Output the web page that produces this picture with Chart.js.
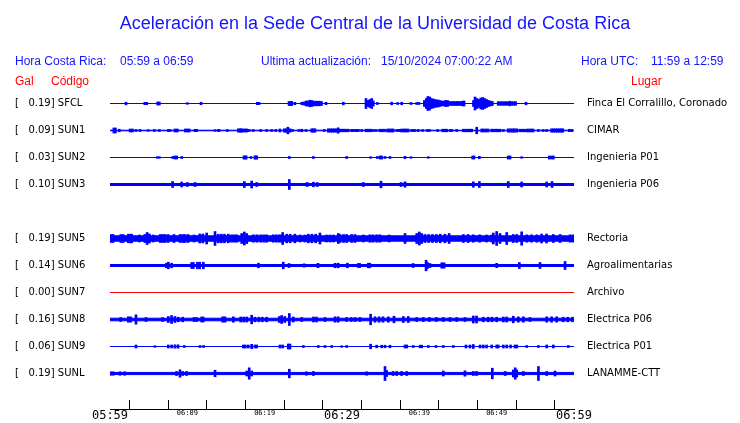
<!DOCTYPE html>
<html>
<head>
<meta charset="utf-8">
<title>Aceleración Sede Central UCR</title>
<script src="https://cdn.jsdelivr.net/npm/chart.js@4.4.1/dist/chart.umd.min.js"></script>
<style>
  html, body { margin: 0; padding: 0; background: #fff; }
  canvas { display: block; }
</style>
</head>
<body>
<canvas id="sismo" width="740" height="423"></canvas>
<script>
// textos de cabecera
const titulo = 'Aceleración en la Sede Central de la Universidad de Costa Rica';
const horaLocal = '05:59 a 06:59';
const horaUTC = '11:59 a 12:59';
const actualizacion = '15/10/2024 07:00:22 AM';

// estaciones (SUN4 sin datos)
const codigos = ['SFCL', 'SUN1', 'SUN2', 'SUN3', 'SUN4', 'SUN5', 'SUN6', 'SUN7', 'SUN8', 'SUN9', 'SUNL'];
const gal = [0.19, 0.09, 0.03, 0.10, null, 0.19, 0.14, 0.00, 0.16, 0.06, 0.19];
const lugares = ['Finca El Corralillo, Coronado', 'CIMAR', 'Ingenieria P01', 'Ingenieria P06', '',
  'Rectoria', 'Agroalimentarias', 'Archivo', 'Electrica P06', 'Electrica P01', 'LANAMME-CTT'];

// eje de tiempo: minutos desde las 05:59
const marcasMin = [0, 5, 10, 15, 20, 25, 30, 35, 40, 45, 50, 55, 60];
const etiquetasHora = ['05:59', '06:09', '06:19', '06:29', '06:39', '06:49', '06:59'];

// nivel de ruido de fondo (semiamplitud) de cada traza
const ruido = [0, 0.3, 0, 1, null, 2.7, 1, 0, 1.3, 0, 1.1];

// picos: [minuto, semiamplitud]
const picosSFCL = [[2.07,1.3],[4.5,1.2],[4.75,1.2],[6.16,1.5],[6.38,1.5],[10.0,0.8],[11.77,1.3],[19.05,1.2],[19.27,1.2],
  [23.15,2],[23.35,2],[23.5,2],[23.9,1.2],[24.8,1.3],[25.1,1.5],[25.35,2.5],[25.6,2.5],[25.85,3.3],[26.1,3],[26.35,2.3],
  [26.6,2.3],[26.85,2.3],[27.1,2.3],[27.35,2],[27.93,1.2],[30.17,1.3],[33.1,5],[33.35,3],[33.6,4],[33.85,5],[34.05,2.5],
  [34.57,1],[36.42,1.3],[37.2,1],[37.72,1.3],[38.92,1],[39.66,1],[39.96,1],[40.65,3],[40.9,5],[41.1,7],[41.35,6.5],
  [41.55,5],[41.8,4.5],[42.0,4],[42.25,3.5],[42.45,3.5],[42.67,3],[42.9,2.3],[43.15,2.5],[43.4,3],[43.65,3],[43.9,2],
  [44.15,2],[44.4,2],[44.65,2],[44.9,2],[45.15,2],[45.4,2],[45.6,2.3],[45.78,2.5],[47.0,3],[47.2,6.5],[47.45,5],[47.7,4],
  [47.95,5.5],[48.2,6],[48.45,5],[48.7,4],[48.95,3],[49.2,2.5],[49.45,2],[50.2,1.8],[50.45,1.8],[50.7,1.8],[50.95,1.8],
  [51.2,1.8],[51.45,1.8],[51.7,2.3],[51.95,1.8],[52.2,1.8],[52.45,1.8],[53.8,1.3]];
const picosSUN1 = [[0.5,2.5],[0.7,2.5],[1.2,1.3],[2.6,1.5],[2.9,1.5],[3.36,1],[3.88,1],[4.95,0.8],[5.73,1],[6.38,1],
  [7.54,1],[7.76,1],[8.4,1.5],[8.7,1.5],[9.74,1.5],[10.0,1.5],[10.24,1.5],[11.0,1.2],[11.2,1.2],[13.58,0.8],[14.0,1],
  [14.1,1],[15.17,1],[16.6,1.7],[16.85,1.7],[17.0,1.7],[17.24,1.5],[17.5,1.5],[17.68,1.5],[18.0,1],[18.53,1],[19.48,1],
  [20.26,1],[20.9,1],[21.43,1],[21.98,1.5],[22.54,1.7],[22.8,1.7],[23.0,3.3],[23.27,1.7],[23.6,1],[24.44,1],[24.8,1.3],
  [25.35,1],[26.08,1.7],[26.3,1.7],[26.5,1.7],[27.7,1],[28.23,1.7],[28.5,1.7],[28.75,1.7],[29.0,1.7],[29.27,1.7],
  [29.5,2.7],[29.74,1.3],[30.0,1.3],[30.3,1.3],[30.55,1.3],[30.8,1.3],[31.25,1.2],[31.47,1.2],[31.8,1.2],[32.1,1.2],
  [32.55,1],[33.1,1.3],[33.4,1.3],[33.7,1.3],[34.05,1],[34.4,1],[34.9,1.3],[35.2,1.3],[35.5,1.3],[35.9,1.5],[36.15,1.5],
  [36.4,1.5],[36.6,1.5],[37.07,1],[37.3,1],[37.5,1],[37.7,1.5],[38.0,1.5],[38.25,1.5],[38.55,1.5],[39.0,1],[39.2,1],
  [39.45,1],[39.87,1],[40.43,1],[41.03,1],[41.3,1],[42.37,1],[43.02,1.3],[43.3,1.3],[43.53,1.3],[43.97,1],[44.2,1],
  [44.83,1],[45.7,1.3],[46.0,1.3],[46.3,1.3],[46.55,1.3],[46.77,1.3],[47.42,3.3],[48.07,1.5],[48.3,1.5],[48.6,1.5],
  [48.9,1.5],[49.36,1.3],[49.6,1.3],[49.9,1.3],[50.15,1.3],[50.43,1.3],[50.86,1],[51.5,1.7],[51.8,1.7],[52.1,1.7],
  [52.3,1.7],[52.6,1.7],[53.0,1.3],[53.3,1.3],[53.6,1.3],[53.88,1.3],[54.1,1.5],[54.4,1.5],[54.7,1.5],[55.4,1],[56.0,1],
  [56.47,1],[57.1,1.7],[57.35,1.7],[57.6,1.7],[57.85,1.7],[58.1,1.7],[58.35,1.7],[58.55,1.7],[59.4,1.2],[59.7,1.2]];
const picosSUN2 = [[6.12,0.8],[6.38,0.8],[8.1,1],[8.4,1.5],[8.62,1.5],[9.27,1],[17.33,1.7],[17.6,1.7],[18.23,1],
  [18.75,1.7],[18.97,1.7],[23.19,1],[26.3,1],[30.6,1],[33.7,0.8],[34.57,1],[34.92,1.5],[35.13,1.5],[35.56,1],[36.2,1],
  [38.15,1.2],[38.92,0.8],[41.16,0.8],[46.9,1.5],[47.07,1.5],[47.76,1.2],[51.5,1.5],[51.73,1.5],[53.23,0.8],[56.8,1.5],
  [57.1,1.5],[57.33,1.5]];
const picosSUN3 = [[8.1,3],[9.27,2.5],[10.0,2],[11.0,2],[17.37,3],[18.32,3.5],[18.97,2],[23.19,5],[25.5,2],[26.3,2.3],
  [26.8,2],[32.76,2],[35.04,3.3],[37.63,2],[38.15,2.7],[46.98,2.7],[47.76,3],[51.5,3],[53.23,2.5],[56.47,2.5],[57.16,3]];
const picosSUN5 = [[0.1,4],[0.4,4],[1.4,4],[1.7,4],[2.37,4.3],[2.6,4.3],[2.8,4.3],[3.8,3.5],[4.5,4],[4.8,6],[5.1,4.5],
  [5.6,3.5],[6.5,4],[6.8,4],[7.1,4],[7.5,4],[8.28,4],[9.05,4],[9.4,4],[9.7,4],[10.1,4],[10.86,3.5],[11.6,4.5],[12.0,4.5],
  [12.5,5.5],[13.58,7],[14.0,4.3],[14.4,4.3],[14.8,4.3],[15.3,4.3],[15.74,3.7],[16.1,3.7],[16.4,3.7],[17.03,5],
  [17.37,6.5],[17.68,5],[18.53,3.7],[19.0,3.7],[19.5,3.7],[19.9,3.7],[20.26,3.7],[21.1,3.7],[21.5,3.7],[21.9,3.7],
  [22.2,3.7],[22.33,6],[22.85,4.3],[23.3,4.3],[23.9,4.3],[24.57,3.5],[25.2,3.5],[25.64,4.3],[26.1,4.3],[26.6,4.3],
  [27.15,5.5],[28.0,3.5],[28.45,3.5],[28.88,3.5],[29.52,5],[29.74,4],[30.2,4],[30.6,4],[31.25,4],[31.68,4],[32.76,3.5],
  [33.6,3.7],[34.0,3.7],[34.5,3.7],[34.9,3.7],[36.1,3.5],[38.15,5],[39.66,5],[40.0,6.5],[40.3,5],[40.73,4],[41.2,4],
  [41.7,4],[42.2,4],[42.7,4.3],[43.3,4.3],[43.85,5],[45.7,4],[46.3,4],[46.98,3.7],[47.8,3.7],[48.7,3.5],[49.35,3.5],
  [49.57,5.5],[50.0,7],[50.43,5],[51.3,6],[52.15,4],[52.6,4],[53.23,6.7],[53.9,3.7],[54.5,3.7],[55.2,3.7],[55.8,4.5],
  [56.45,4.5],[57.33,4],[58.2,4],[59.5,3.7],[59.9,3.7]];
const picosSUN6 = [[7.3,2.3],[7.54,3.3],[7.97,2.3],[10.56,3],[10.78,3],[11.3,3.3],[11.6,3.3],[12.07,3.3],[19.2,2.3],
  [22.4,3.3],[23.15,2],[25.1,1.7],[26.9,2.2],[29.1,2.3],[29.5,2.3],[30.7,2.3],[32.1,2],[32.3,2],[33.4,2.3],[33.6,2.3],
  [39.2,2],[40.87,5.3],[41.05,3],[41.38,2],[42.9,2.7],[43.2,2.7],[50.0,2.2],[52.93,3],[55.6,3],[58.84,4]];
const picosSUN7 = [];
const picosSUN8 = [[1.38,2],[2.37,2.7],[2.66,2.7],[3.36,4.7],[4.66,2],[6.8,2],[7.54,3],[7.96,4],[8.4,3],[8.84,2.3],
  [9.4,2.3],[10.86,2],[11.2,2],[11.85,2.5],[12.05,2.5],[14.57,2.7],[14.87,2.7],[15.95,2.7],[16.9,2.5],[17.3,2.5],
  [17.68,2.5],[18.32,4.3],[18.75,2.3],[19.25,2.3],[19.7,2.3],[20.26,2.3],[21.9,3],[22.2,4],[22.6,3],[23.19,6],[23.7,2.5],
  [24.8,2],[26.3,2.5],[26.7,2.5],[27.8,2],[29.1,2.7],[29.5,2.7],[30.6,2],[31.2,2],[31.7,2],[32.33,2],[33.7,5.3],
  [34.27,2.7],[34.8,2.7],[35.3,2.7],[35.99,2.7],[36.72,3.3],[37.93,3],[38.57,3],[39.66,2],[40.5,2],[41.3,2],[42.2,2],
  [43.1,2],[43.97,2],[44.83,2],[45.9,2],[46.98,3.5],[47.4,3.5],[48.27,2.3],[48.9,2.3],[49.4,2.3],[50.0,2.3],[50.86,2.5],
  [51.3,2.5],[52.15,3.3],[52.8,2.7],[53.45,2.7],[54.3,2],[56.47,2.7],[57.1,2.7],[57.76,2.7],[58.6,2.3],[59.2,2.3],[59.8,2.3]];
const picosSUN9 = [[3.36,1.5],[5.8,0.8],[7.54,1.5],[7.97,1.5],[8.4,1.7],[8.8,1.7],[9.6,1],[11.64,1],[12.1,1],[17.24,1.5],
  [17.5,1.5],[17.88,1.5],[18.32,2.2],[18.75,1.5],[18.97,1.5],[21.98,1.5],[22.33,1.5],[23.05,2.5],[23.27,2.5],[25.0,1],
  [26.94,1],[27.8,1],[28.67,1],[29.96,0.8],[30.6,1],[33.7,2.3],[34.48,1.3],[35.13,1.3],[35.56,1.3],[36.2,1.3],[38.15,1.5],
  [38.37,1.5],[39.22,1],[40.1,1.3],[40.3,1.3],[41.16,1],[42.15,1],[43.1,1],[44.4,1],[46.03,1.5],[46.55,1.5],[46.98,2],
  [47.85,1.5],[48.27,1.5],[48.7,1.5],[49.36,1.5],[50.0,1.5],[50.2,1.5],[50.86,1.5],[51.3,1.5],[51.8,1.5],[52.37,1.5],
  [52.6,1.5],[53.88,1],[55.4,1],[56.47,1.5],[57.33,1.5],[59.27,1]];
const picosSUNL = [[0.1,1.7],[0.4,1.7],[1.3,1.7],[1.9,1.7],[8.6,2],[9.05,3.7],[9.4,2],[9.9,2],[13.58,3.3],[17.68,2.5],
  [18.0,5.7],[18.32,2.5],[23.19,4.3],[25.4,1.7],[26.3,2],[33.2,1.7],[35.56,7],[35.77,3],[36.6,2],[37.07,2],[37.7,2],
  [38.37,2],[43.1,2.5],[45.9,2.7],[46.98,2],[47.4,2],[49.44,5.3],[51.1,2],[52.15,3.5],[52.4,5.7],[52.6,3.5],[53.45,2],
  [55.4,7],[56.47,2],[57.55,2.5]];
const picos = [picosSFCL, picosSUN1, picosSUN2, picosSUN3, null, picosSUN5, picosSUN6, picosSUN7, picosSUN8, picosSUN9, picosSUNL];

const PASO = 27; // separación entre trazas, en unidades de amplitud
const AZUL = '#0000ff';
const ROJO = '#ff0000';
const TEXTO_AZUL = '#1414ff';

const datasets = [];
codigos.forEach((cod, i) => {
  if (gal[i] === null) return;
  const base = i * PASO;
  const color = gal[i] === 0 ? ROJO : AZUL;
  const r = ruido[i];
  // banda de ruido de fondo
  datasets.push({ type: 'line', data: [{ x: 0, y: base - r }, { x: 60, y: base - r }],
    borderColor: color, backgroundColor: color, borderWidth: 1, pointRadius: 0, fill: '+1' });
  datasets.push({ type: 'line', data: [{ x: 0, y: base + r }, { x: 60, y: base + r }],
    borderColor: color, borderWidth: 1, pointRadius: 0, fill: false });
  // picos
  datasets.push({ type: 'bar', data: picos[i].map(([t, a]) => ({ x: t, y: [base - a, base + a] })),
    backgroundColor: color, borderWidth: 0, barThickness: 2, grouped: false });
});

// sin relleno extra de las etiquetas en el layout
const sinPadding = s => { s.paddingTop = 0; s.paddingBottom = 0; s.paddingLeft = 0; s.paddingRight = 0; };

const cabecera = {
  id: 'cabecera',
  afterDraw(chart) {
    const c = chart.ctx;
    c.save();
    c.textBaseline = 'alphabetic';
    c.fillStyle = TEXTO_AZUL;
    c.font = '18px "Liberation Sans"';
    c.textAlign = 'center';
    c.fillText(titulo, 375, 29);
    c.font = '12px "Liberation Sans"';
    c.textAlign = 'left';
    c.fillText('Hora Costa Rica:', 15, 65);
    c.fillText(horaLocal, 120, 65);
    c.fillText('Ultima actualización:', 261, 65);
    c.fillText(actualizacion, 381, 65);
    c.fillText('Hora UTC:', 581, 65);
    c.fillText(horaUTC, 651, 65);
    c.fillStyle = ROJO;
    c.fillText('Gal', 15, 85);
    c.fillText('Código', 51, 85);
    c.fillText('Lugar', 631, 85);
    c.restore();
  }
};

const ctx = document.getElementById('sismo').getContext('2d');
new Chart(ctx, {
  type: 'bar',
  data: { datasets },
  options: {
    responsive: false,
    animation: false,
    events: [],
    devicePixelRatio: 1,
    layout: { padding: { left: 15, right: 0, top: 76, bottom: 0 } },
    plugins: { legend: { display: false }, tooltip: { enabled: false } },
    scales: {
      x: {
        type: 'linear', min: 0, max: 60, offset: false, position: 'bottom',
        afterBuildTicks: s => { s.ticks = marcasMin.map(v => ({ value: v })); },
        afterFit: s => { s.height = 14; sinPadding(s); },
        ticks: {
          autoSkip: false, maxRotation: 0, padding: 9, color: '#000',
          font: c => (c.tick && c.tick.value % 30 === 0)
            ? { family: 'DejaVu Sans Mono', size: 12 }
            : { family: 'DejaVu Sans Mono', size: 7 },
          callback: v => v % 10 === 0 ? etiquetasHora[v / 10] : ''
        },
        grid: { drawOnChartArea: false, drawTicks: true, tickLength: -9, color: '#000', lineWidth: 1 },
        border: { display: true, color: '#000', width: 1 }
      },
      y: {
        type: 'linear', reverse: true, min: -PASO - 0.5, max: PASO * 11.333 - 0.5, position: 'left',
        afterBuildTicks: s => { s.ticks = codigos.map((c, i) => ({ value: i * PASO })); },
        afterFit: s => { s.width = 95; sinPadding(s); },
        ticks: {
          crossAlign: 'far', color: '#000', font: { family: 'DejaVu Sans', size: 10 },
          callback: (v, i) => gal[i] === null ? '' : '[   ' + gal[i].toFixed(2) + '] ' + codigos[i]
        },
        grid: { display: false },
        border: { display: false }
      },
      lugar: {
        type: 'linear', reverse: true, min: -PASO - 0.5, max: PASO * 11.333 - 0.5, position: 'right',
        afterBuildTicks: s => { s.ticks = codigos.map((c, i) => ({ value: i * PASO })); },
        afterFit: s => { s.width = 166; sinPadding(s); },
        ticks: {
          crossAlign: 'near', padding: 13, color: '#000', font: { family: 'DejaVu Sans', size: 10 },
          callback: (v, i) => lugares[i]
        },
        grid: { display: false, drawTicks: false },
        border: { display: false }
      }
    }
  },
  plugins: [cabecera]
});
</script>
</body>
</html>
